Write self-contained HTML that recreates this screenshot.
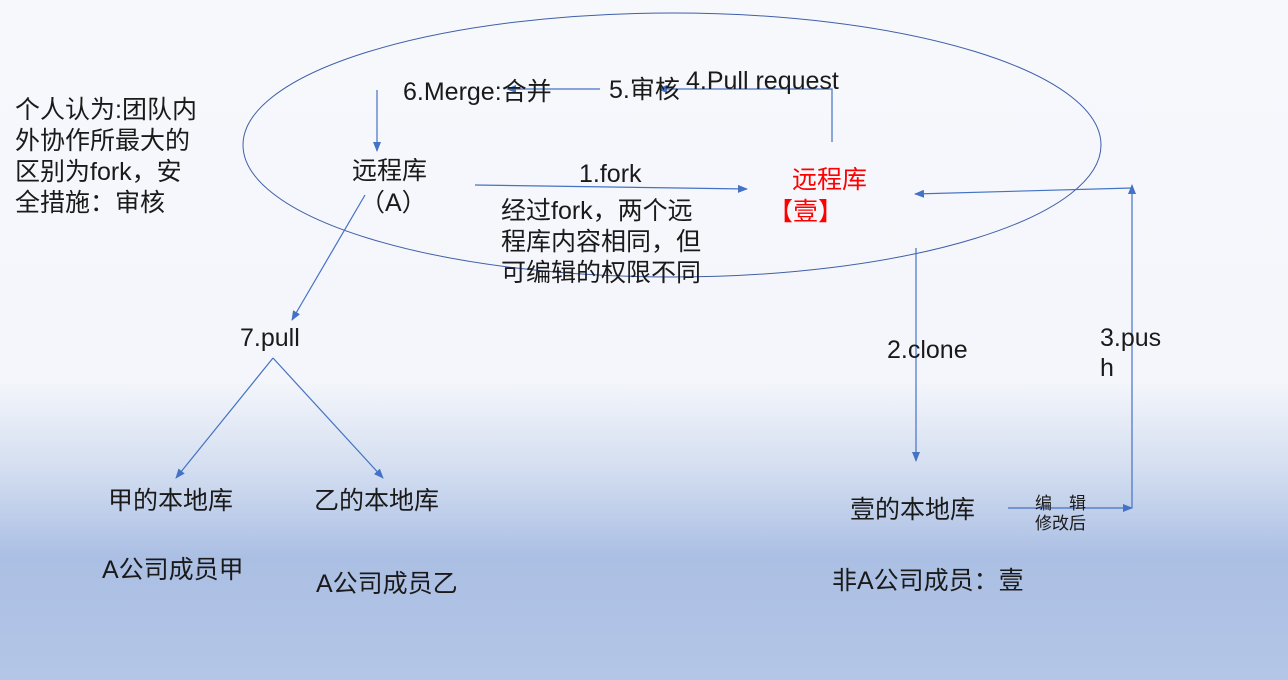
<!DOCTYPE html>
<html><head><meta charset="utf-8"><style>
html,body{margin:0;padding:0;width:1288px;height:680px;overflow:hidden}
svg{display:block}
text{font-family:"Liberation Sans","Noto Sans CJK SC",sans-serif;font-size:25px;fill:#1a1a1a}
</style></head><body>
<svg width="1288" height="680" viewBox="0 0 1288 680" xmlns="http://www.w3.org/2000/svg">
<defs>
<linearGradient id="bg" x1="0" y1="0" x2="0" y2="1">
<stop offset="0" stop-color="#f6f8fc"/>
<stop offset="0.56" stop-color="#f4f6fb"/>
<stop offset="0.68" stop-color="#d6e0f1"/>
<stop offset="0.82" stop-color="#abbfe4"/>
<stop offset="1" stop-color="#b4c6e7"/>
</linearGradient>
<marker id="a" markerWidth="10" markerHeight="8" refX="9" refY="4" orient="auto" markerUnits="userSpaceOnUse">
<path d="M0,0 L10,4 L0,8 z" fill="#4472c4"/>
</marker>
</defs>
<rect width="1288" height="680" fill="url(#bg)"/>
<ellipse cx="672" cy="145" rx="429" ry="132" fill="none" stroke="#3f5fa8" stroke-width="1"/>
<g stroke="#4472c4" stroke-width="1.2" fill="none">
<line x1="377" y1="90" x2="377" y2="151" marker-end="url(#a)"/>
<polyline points="832,142 832,89 658,89" marker-end="url(#a)"/>
<line x1="600" y1="89" x2="507" y2="89" marker-end="url(#a)"/>
<line x1="475" y1="185" x2="747" y2="189" marker-end="url(#a)"/>
<line x1="365" y1="195" x2="292" y2="320" marker-end="url(#a)"/>
<line x1="273" y1="358" x2="176" y2="478" marker-end="url(#a)"/>
<line x1="273" y1="358" x2="383" y2="478" marker-end="url(#a)"/>
<line x1="916" y1="248" x2="916" y2="461" marker-end="url(#a)"/>
<polyline points="1008,508 1132,508" marker-end="url(#a)"/>
<line x1="1132" y1="508" x2="1132" y2="185" marker-end="url(#a)"/>
<line x1="1132" y1="188" x2="915" y2="194" marker-end="url(#a)"/>
</g>
<text x="15" y="118">个人认为:团队内</text>
<text x="15" y="149">外协作所最大的</text>
<text x="15" y="180">区别为fork，安</text>
<text x="15" y="211">全措施：审核</text>
<text x="403" y="100">6.Merge:合并</text>
<text x="609" y="98">5.审核</text>
<text x="686" y="89">4.Pull request</text>
<text x="352" y="179">远程库</text>
<text x="360" y="211">（A）</text>
<text x="579" y="182">1.fork</text>
<text x="501" y="219">经过fork，两个远</text>
<text x="501" y="250">程库内容相同，但</text>
<text x="501" y="281">可编辑的权限不同</text>
<text x="792" y="188" style="fill:#ff0000">远程库</text>
<text x="768" y="220" style="fill:#ff0000">【壹】</text>
<text x="240" y="346">7.pull</text>
<text x="887" y="358">2.clone</text>
<text x="1100" y="346">3.pus</text>
<text x="1100" y="376">h</text>
<text x="108" y="509">甲的本地库</text>
<text x="314" y="509">乙的本地库</text>
<text x="102" y="578">A公司成员甲</text>
<text x="316" y="592">A公司成员乙</text>
<text x="850" y="518">壹的本地库</text>
<text x="1035" y="509" style="font-size:17px">编　辑</text>
<text x="1035" y="529" style="font-size:17px">修改后</text>
<text x="832" y="589">非A公司成员：壹</text>
</svg>
</body></html>
